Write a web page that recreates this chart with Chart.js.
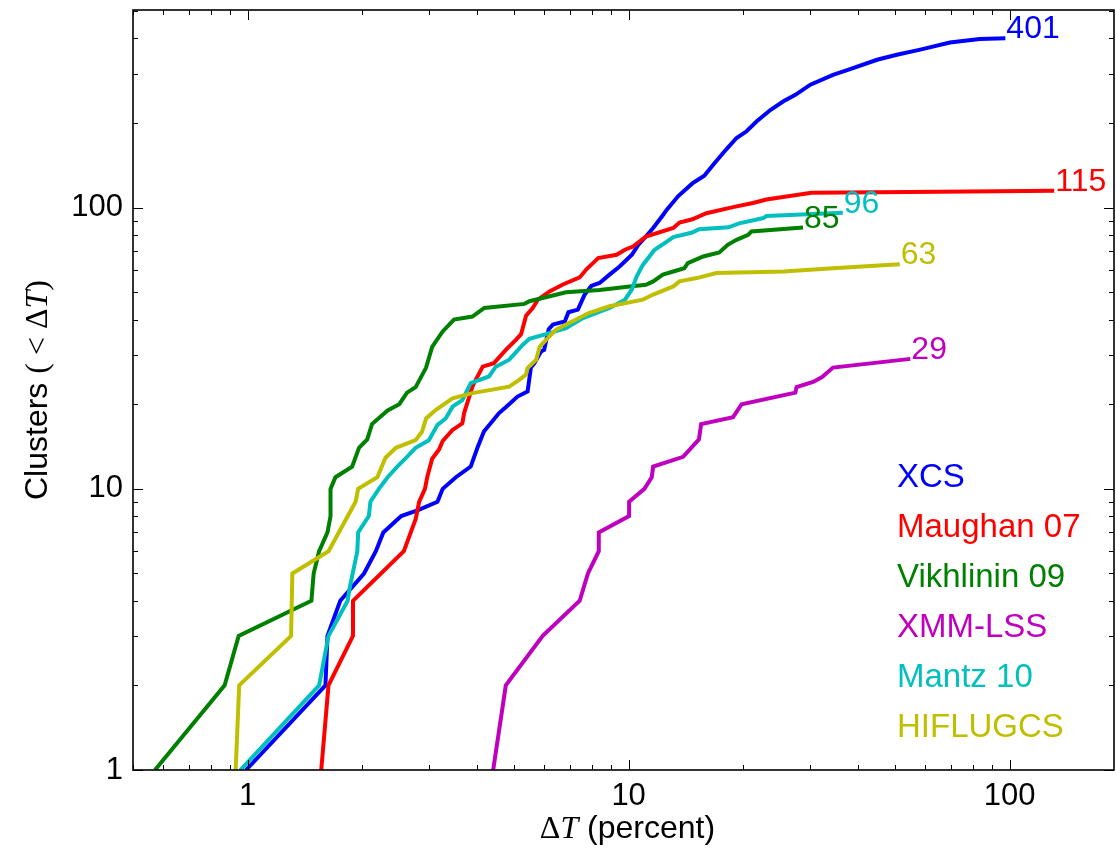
<!DOCTYPE html>
<html>
<head>
<meta charset="utf-8">
<script src="https://cdn.jsdelivr.net/npm/chart.js@4.4.0/dist/chart.umd.min.js"></script>
<style>
  html, body { margin:0; padding:0; background:#fff; }
  #wrap { width:1116px; height:852px; }
</style>
</head>
<body>
<div id="wrap"><canvas id="chart" width="1116" height="852"></canvas></div>
<script>
// cumulative number of clusters below a given temperature error (percent)
const names = ["XCS", "Maughan 07", "Vikhlinin 09", "XMM-LSS", "Mantz 10", "HIFLUGCS"];
const colors = ["#0000ff", "#ff0000", "#008000", "#bf00bf", "#00bfbf", "#bfbf00"];
const totals = [401, 115, 85, 29, 96, 63];

const xcsDT = [0.99,1.60,1.62,1.75,2.02,2.17,2.27,2.53,2.80,3.15,3.25,3.52,3.85,4.01,4.17,4.57,4.76,5.11,5.43,5.54,5.66,5.89,6.0,6.17,6.33,6.8,6.95,7.36,7.66,7.98,8.39,8.91,9.47,10.2,10.6,11.1,11.6,12.3,12.6,13.5,14.7,15.8,16.8,18.1,19.2,20.4,21.7,23.6,25.5,27.4,30.0,34.4,37.8,44.9,50.6,58.3,69.7,83.5,97.5];
const xcsN = [1,2,3,4,5,6,7,8,8.4,9,10,11,12,14,16,18.6,19.5,21.3,22.2,27,28,30.8,31.2,37,38.4,39.4,42.5,43.4,49,52.7,54,57.8,61.8,68,73.8,79,84.7,94,98.4,110,122,130,144,162,177,187,203,223,239,252,274,297,310,336,350,365,387,398,401];

const maughanDT = [1.56,1.63,1.89,1.89,2.57,2.76,2.82,2.92,2.96,3.05,3.18,3.25,3.45,3.66,3.70,3.89,3.93,4.14,4.43,4.76,5.06,5.22,5.38,5.6,5.77,6.2,6.7,7.44,7.76,8.14,8.32,9.30,9.78,10.27,11.1,13.1,13.6,14.7,16.0,18.8,21.2,23.0,30.2,65.7,131];
const maughanN = [1,2,3,4,6,7.8,9,10,11,12.8,13.8,14.8,16.2,17.1,18.6,23.1,23.8,27.2,28,31.2,33.9,35.5,41.3,44,47,50.4,53.2,56.5,60.5,64.3,66.2,68,70.9,72.8,79,84.7,88.6,91,95.6,100.5,104,107,113,114,115];

const vikhlininDT = [0.571,0.87,0.947,1.47,1.49,1.54,1.62,1.65,1.65,1.70,1.88,1.96,2.06,2.12,2.33,2.50,2.62,2.76,2.94,3.05,3.25,3.48,3.89,4.18,5.33,5.49,6.85,8.39,10.06,11.1,11.6,12.3,13.1,14.0,14.3,15.7,17.3,18.2,19.2,20.6,21.0,28.7];
const vikhlininN = [1,2,3,4,5,6,7,8,10,11,12,14,15,17,19,20,22,23,27,32,36.3,40,41,44,45.5,46.5,50,51,52.5,53.2,54.7,57.8,59.3,60.9,63.5,67.1,69.3,73.8,76.9,80.1,82.3,85];

const xmmDT = [4.41,4.76,5.95,7.44,7.82,8.35,8.35,10.03,10.03,11.0,11.5,11.6,13.9,15.3,15.5,18.8,19.8,27.4,27.6,30.5,32.2,34.4,54.9];
const xmmN = [1,2,3,4,5,6,7,8,9,10,11,12,13,15,17,18,20,22,23,24,25,27,29];

const mantzDT = [0.957,1.54,1.63,1.83,1.85,1.94,1.95,2.08,2.10,2.21,2.33,2.47,2.62,2.76,2.99,3.15,3.31,3.45,3.66,3.85,4.30,4.48,4.86,5.27,5.49,6.07,6.85,7.59,8.91,9.78,10.2,10.5,10.9,11.7,12.6,13.1,14.7,15.3,18.3,19.5,22.6,23.0,36.5];
const mantzN = [1,2,3,4,4.4,6,7,8,9,10,11,12,13,14,14.9,16.9,17.8,19.6,20.7,23.8,25.1,27.2,28.8,32.5,34.2,35.5,37.3,40.5,44,47.1,51.2,57,62.6,70.9,75.8,78.6,81.6,83.9,85.2,88,91.9,93.5,96];

const hiflugcsDT = [0.93,0.95,1.30,1.31,1.63,1.92,1.95,2.19,2.30,2.45,2.76,2.87,2.94,3.12,3.45,3.89,4.86,5.16,5.38,5.43,5.72,5.84,6.07,6.44,6.98,7.86,8.91,10.9,11.6,13.1,13.6,15.1,17.0,25.5,34.4,51.5];
const hiflugcsN = [1,2,3,5,6,9,10,11,12.9,14,14.9,16,17.8,19.1,21,21.9,23.1,24.4,25.5,26.9,28.8,32,33.9,36.8,38.9,42.2,44.6,47.1,49.1,52.5,54.7,56.2,58.6,59.3,60.9,63];

const xTickValues = [1, 10, 100];
const yTickValues = [1, 10, 100];

const SANS = "'Liberation Sans', Arial, sans-serif";
const SERIF = "'Liberation Serif', 'Times New Roman', serif";

const series = [[xcsDT, xcsN], [maughanDT, maughanN], [vikhlininDT, vikhlininN],
                [xmmDT, xmmN], [mantzDT, mantzN], [hiflugcsDT, hiflugcsN]];

const datasets = names.map((name, i) => ({
  label: name,
  data: series[i][0].map((x, j) => ({ x: x, y: series[i][1][j] })),
  borderColor: colors[i],
  backgroundColor: colors[i],
  borderWidth: 4,
  pointRadius: 0,
  tension: 0,
  fill: false,
  order: names.length - i
}));

function logMarks(min, max) {
  const out = [];
  for (let e = Math.floor(Math.log10(min)); e <= Math.ceil(Math.log10(max)); e++) {
    for (let k = 1; k < 10; k++) {
      const v = k * Math.pow(10, e);
      if (v >= min && v <= max) out.push({ v: v, major: k === 1 });
    }
  }
  return out;
}

// frame + inward ticks on all four sides, like the matplotlib original
const framePlugin = {
  id: "frame",
  afterDatasetsDraw(chart) {
    const { ctx, chartArea: a, scales: { x, y } } = chart;
    ctx.save();
    ctx.strokeStyle = "#000";
    ctx.lineWidth = 1;
    ctx.beginPath();
    logMarks(x.min, x.max).forEach(t => {
      const px = Math.round(x.getPixelForValue(t.v)) + 0.5;
      const len = t.major ? 10 : 5;
      ctx.moveTo(px, a.bottom); ctx.lineTo(px, a.bottom - len);
      ctx.moveTo(px, a.top); ctx.lineTo(px, a.top + len);
    });
    logMarks(y.min, y.max).forEach(t => {
      const py = Math.round(y.getPixelForValue(t.v)) + 0.5;
      const len = t.major ? 10 : 5;
      ctx.moveTo(a.left, py); ctx.lineTo(a.left + len, py);
      ctx.moveTo(a.right, py); ctx.lineTo(a.right - len, py);
    });
    ctx.stroke();
    ctx.lineWidth = 1.6;
    ctx.strokeRect(a.left, a.top, a.right - a.left, a.bottom - a.top);
    ctx.restore();
  }
};

// count written at the end of each curve
const endLabelPlugin = {
  id: "endLabels",
  afterDatasetsDraw(chart) {
    const ctx = chart.ctx;
    ctx.save();
    ctx.font = "32px " + SANS;
    ctx.textAlign = "left";
    ctx.textBaseline = "alphabetic";
    chart.data.datasets.forEach((ds, i) => {
      const pts = chart.getDatasetMeta(i).data;
      const last = pts[pts.length - 1];
      ctx.fillStyle = ds.borderColor;
      ctx.fillText(String(totals[i]), last.x + 1, last.y);
    });
    ctx.restore();
  }
};

// text-only legend in the lower right corner
const textLegendPlugin = {
  id: "textLegend",
  afterDraw(chart) {
    const ctx = chart.ctx;
    ctx.save();
    ctx.font = "33px " + SANS;
    ctx.textAlign = "left";
    ctx.textBaseline = "alphabetic";
    chart.data.datasets.forEach((ds, i) => {
      ctx.fillStyle = ds.borderColor;
      ctx.fillText(ds.label, 897, 487 + i * 50);
    });
    ctx.restore();
  }
};

function drawPieces(ctx, pieces) {
  let w = 0;
  pieces.forEach(p => { ctx.font = p.f; w += ctx.measureText(p.t).width; });
  let cx = -w / 2;
  pieces.forEach(p => {
    ctx.font = p.f;
    ctx.fillText(p.t, cx, 0);
    cx += ctx.measureText(p.t).width;
  });
}

// axis titles with a math-style italic T
const titlePlugin = {
  id: "axisTitles",
  afterDraw(chart) {
    const { ctx, chartArea: a } = chart;
    ctx.save();
    ctx.fillStyle = "#000";
    ctx.textAlign = "left";
    ctx.textBaseline = "alphabetic";
    ctx.translate((a.left + a.right) / 2 + 4, 838);
    drawPieces(ctx, [
      { t: "\u0394", f: "32px " + SERIF },
      { t: "T", f: "italic 32px " + SERIF },
      { t: " (percent)", f: "32px " + SANS }
    ]);
    ctx.restore();

    ctx.save();
    ctx.fillStyle = "#000";
    ctx.textAlign = "left";
    ctx.textBaseline = "alphabetic";
    ctx.translate(47, (a.top + a.bottom) / 2);
    ctx.rotate(-Math.PI / 2);
    drawPieces(ctx, [
      { t: "Clusters ", f: "32px " + SANS },
      { t: "( < \u0394", f: "32px " + SERIF },
      { t: "T", f: "italic 32px " + SERIF },
      { t: ")", f: "32px " + SERIF }
    ]);
    ctx.restore();
  }
};

new Chart(document.getElementById("chart").getContext("2d"), {
  type: "line",
  data: { datasets: datasets },
  options: {
    responsive: false,
    animation: false,
    layout: { padding: { left: 0, top: 10, right: 2, bottom: 0 } },
    plugins: { legend: { display: false }, tooltip: { enabled: false } },
    scales: {
      x: {
        type: "logarithmic",
        min: 0.5, max: 188,
        afterBuildTicks: s => { s.ticks = xTickValues.map(v => ({ value: v })); },
        afterFit: s => { s.height = 82; s.paddingLeft = 0; s.paddingRight = 0; },
        grid: { display: false, drawTicks: false },
        border: { display: false },
        ticks: { color: "#000", font: { family: SANS, size: 31 }, padding: 8,
                 maxRotation: 0, autoSkip: false, callback: v => String(v) }
      },
      y: {
        type: "logarithmic",
        min: 1, max: 505,
        afterBuildTicks: s => { s.ticks = yTickValues.map(v => ({ value: v })); },
        afterFit: s => { s.width = 133; s.paddingTop = 0; s.paddingBottom = 0; },
        grid: { display: false, drawTicks: false },
        border: { display: false },
        ticks: { color: "#000", font: { family: SANS, size: 31 }, padding: 10,
                 autoSkip: false, callback: v => String(v) }
      }
    }
  },
  plugins: [framePlugin, endLabelPlugin, textLegendPlugin, titlePlugin]
});
</script>
</body>
</html>
